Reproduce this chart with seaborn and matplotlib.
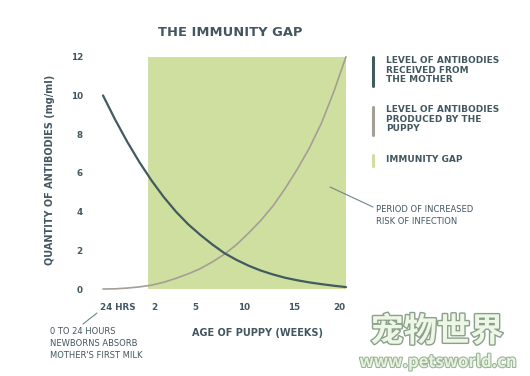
import matplotlib
matplotlib.use("Agg")
import matplotlib.pyplot as plt
import matplotlib.patheffects as pe
from matplotlib.lines import Line2D
import numpy as np
import pandas as pd
import seaborn as sns

# ---------------- data ----------------
curve_pos = [0, 0.25, 0.5, 0.75, 1.0, 1.25, 1.5, 1.75, 2.0, 2.25, 2.5,
             2.75, 3.0, 3.25, 3.5, 3.75, 4.0, 4.25, 4.5, 4.75, 5.0]
mother_vals = [10, 8.75, 7.6, 6.55, 5.6, 4.75, 4.0, 3.35, 2.8, 2.3, 1.85,
               1.5, 1.2, 0.95, 0.75, 0.58, 0.45, 0.34, 0.25, 0.17, 0.1]
puppy_vals = [0, 0.01, 0.05, 0.11, 0.2, 0.35, 0.55, 0.78, 1.05, 1.4, 1.8,
              2.3, 2.9, 3.55, 4.3, 5.2, 6.2, 7.3, 8.6, 10.2, 12]
gap_span = [0.93, 5.0]
gap_top = 12
x_tick_labels = ["24 HRS", "2", "5", "10", "15", "20"]
x_tick_pos = [0.3, 1.05, 1.91, 2.9, 3.93, 4.86]
y_ticks = [0, 2, 4, 6, 8, 10, 12]

title = "THE IMMUNITY GAP"
ylabel = "QUANTITY OF ANTIBODIES (mg/ml)"
xlabel = "AGE OF PUPPY (WEEKS)"
legend_labels = ["LEVEL OF ANTIBODIES\nRECEIVED FROM\nTHE MOTHER",
                 "LEVEL OF ANTIBODIES\nPRODUCED BY THE\nPUPPY",
                 "IMMUNITY GAP"]
note_newborn = "0 TO 24 HOURS\nNEWBORNS ABSORB\nMOTHER'S FIRST MILK"
note_period = "PERIOD OF INCREASED\nRISK OF INFECTION"

# ---------------- style ----------------
C_MOTHER = "#415b5e"
C_PUPPY = "#a59e96"
C_GAP = "#cfdf9f"
C_TEXT = "#435760"

sns.set_theme(style="white")
plt.rcParams["font.family"] = ["DejaVu Sans"]

W, H = 530, 376
fig = plt.figure(figsize=(W / 100, H / 100), dpi=100)
fig.patch.set_facecolor("white")


def fx(x):
    return x / W


def fy(y):
    return 1 - y / H


ax = fig.add_axes([88.4 / W, 1 - 298.7 / H, (360.6 - 88.4) / W, (298.7 - 47) / H])
ax.set_xlim(-0.3, 5.3)
ax.set_ylim(-0.5, 12.5)
ax.set_facecolor("white")

ax.fill_between(gap_span, [0, 0], [gap_top, gap_top], color=C_GAP, lw=0, zorder=1)

df = pd.DataFrame({
    "pos": curve_pos * 2,
    "value": mother_vals + puppy_vals,
    "series": ["mother"] * len(curve_pos) + ["puppy"] * len(curve_pos),
})
sns.lineplot(data=df[df.series == "mother"], x="pos", y="value", ax=ax,
             color=C_MOTHER, lw=1.6, zorder=3)
sns.lineplot(data=df[df.series == "puppy"], x="pos", y="value", ax=ax,
             color=C_PUPPY, lw=1.2, zorder=2)

for s in ax.spines.values():
    s.set_visible(False)
ax.set_xlabel("")
ax.set_ylabel("")
ax.set_yticks(y_ticks)
ax.set_yticklabels([str(v) for v in y_ticks], fontsize=6.3, fontweight="bold", color=C_TEXT)
ax.set_xticks(x_tick_pos)
ax.set_xticklabels(x_tick_labels, fontsize=6.3, fontweight="bold", color=C_TEXT)
ax.tick_params(axis="both", length=0)
ax.tick_params(axis="y", pad=4)
ax.tick_params(axis="x", pad=3)
ax.grid(False)

# title & axis labels
fig.text(fx(230), fy(32), title, ha="center", va="center", fontsize=9.4,
         fontweight="bold", color=C_TEXT)
fig.text(fx(50), fy(170), ylabel, ha="center", va="center", rotation=90,
         fontsize=7.0, fontweight="bold", color=C_TEXT)
fig.text(fx(257), fy(333), xlabel, ha="center", va="center", fontsize=7.0,
         fontweight="bold", color=C_TEXT)

# legend (custom bars)
leg_colors = [C_MOTHER, C_PUPPY, C_GAP]
bar_spans = [(57, 86), (107, 135), (155, 166)]
text_tops = [56, 105, 155]
for col, (y0, y1), ty, lab in zip(leg_colors, bar_spans, text_tops, legend_labels):
    fig.add_artist(Line2D([fx(373), fx(373)], [fy(y0), fy(y1)], color=col, lw=2.2,
                          transform=fig.transFigure))
    fig.text(fx(386), fy(ty), lab, ha="left", va="top", fontsize=6.5,
             fontweight="bold", color=C_TEXT, linespacing=1.1)

# annotations
fig.add_artist(Line2D([fx(330), fx(373)], [fy(187), fy(207)], color="#6f8587", lw=0.8,
                      transform=fig.transFigure))
fig.text(fx(376), fy(205), note_period, ha="left", va="top", fontsize=6.0,
         color=C_TEXT, linespacing=1.45)
fig.add_artist(Line2D([fx(83), fx(97)], [fy(324), fy(313)], color="#6f8587", lw=0.8,
                      transform=fig.transFigure))
fig.text(fx(50), fy(327), note_newborn, ha="left", va="top", fontsize=6.0,
         color=C_TEXT, linespacing=1.45)

# watermark
wm_effects = [pe.withStroke(linewidth=2.0, foreground="#8aa08a")]
fig.text(fx(437), fy(332), "宠物世界", ha="center", va="center", fontsize=24,
         family=["Noto Sans CJK SC", "DejaVu Sans"], fontweight="bold", color="#eef7e6",
         path_effects=wm_effects)
fig.text(fx(438), fy(362), "www.petsworld.cn", ha="center", va="center", fontsize=12,
         family=["Noto Sans CJK SC", "DejaVu Sans"], fontweight="bold", color="#e6f4dc",
         path_effects=[pe.withStroke(linewidth=1.5, foreground="#9ab09a")])

fig.savefig("out.png", dpi=100)
